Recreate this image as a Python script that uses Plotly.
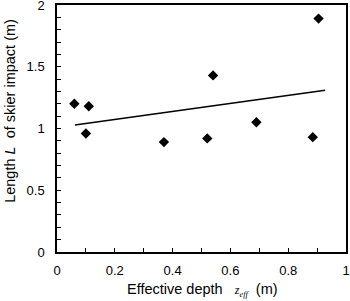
import plotly.graph_objects as go

# Data
depth_x = [0.06, 0.11, 0.10, 0.37, 0.52, 0.54, 0.69, 0.885, 0.905]
length_y = [1.20, 1.18, 0.96, 0.89, 0.92, 1.43, 1.05, 0.93, 1.89]
trend_x = [0.062, 0.928]
trend_y = [1.028, 1.31]

fig = go.Figure()
fig.add_trace(go.Scatter(x=trend_x, y=trend_y, mode="lines",
                         line=dict(color="black", width=1.5), showlegend=False))
fig.add_trace(go.Scatter(x=depth_x, y=length_y, mode="markers",
                         marker=dict(symbol="diamond", size=8, color="black"),
                         showlegend=False))

font = dict(family="Liberation Sans, Arial, sans-serif", size=13, color="black")
tfont = dict(family="Liberation Sans, Arial, sans-serif", size=14.5, color="black")
axis_common = dict(showline=True, linecolor="black", linewidth=1.5, mirror=True,
                   ticks="inside", ticklen=4, tickwidth=1, tickcolor="black",
                   showgrid=False, zeroline=False, tickfont=font,
                   automargin=False, ticklabeloverflow="allow")

fig.update_layout(
    width=350, height=301,
    margin=dict(l=57, r=4, t=5, b=49),
    plot_bgcolor="white", paper_bgcolor="white",
    font=font,
    xaxis=dict(range=[0, 1], dtick=0.2, tick0=0, ticklabelstandoff=6,
               minor=dict(ticks="inside", dtick=0.1, ticklen=4, tickcolor="black"),
               **axis_common),
    yaxis=dict(range=[0, 2], dtick=0.5, tick0=0, ticklabelstandoff=8,
               minor=dict(ticks="inside", dtick=0.1, ticklen=4, tickcolor="black"),
               **axis_common),
    annotations=[
        dict(text="Effective depth&nbsp;&nbsp; <span style='font-family:Liberation Serif;font-size:12px'><i>z</i><sub><i>eff</i></sub></span>&nbsp; (m)",
             xref="paper", yref="paper", x=0.503, y=-0.152, xanchor="center", yanchor="middle",
             showarrow=False, font=tfont),
        dict(text="Length <i>L</i>&nbsp; of skier impact (m)",
             xref="paper", yref="paper", x=-0.163, y=0.571, xanchor="center", yanchor="middle",
             textangle=-90, showarrow=False, font=tfont),
    ],
)

fig.write_html("out.html", config={"displayModeBar": False},
               post_script="document.body.style.margin='0';document.body.style.overflow='hidden';")
